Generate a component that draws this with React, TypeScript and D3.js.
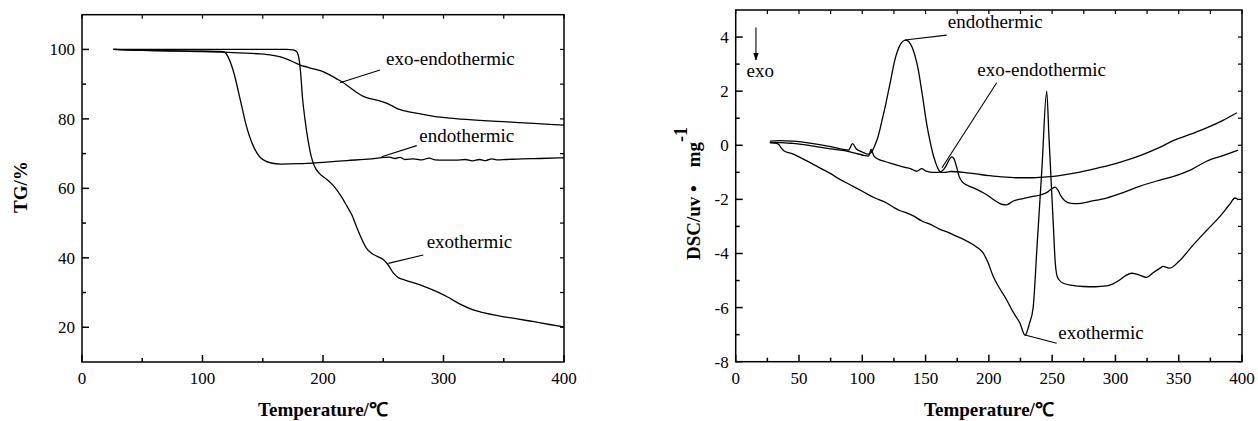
import React from "react";
import * as d3 from "d3";

// ---------------- data ----------------
type P = [number, number];

// TG curves: [temperature °C, mass %]
const tgExothermic: P[] = [
  [26, 100.0], [60, 100.0], [100, 100.0], [140, 100.0], [170, 100.0], [175, 99.9], [178, 99.4], [180, 97.5],
  [181.5, 93], [183, 86], [185, 80], [187.5, 74], [190, 69.5], [193, 66.3], [197, 64.3], [203, 62.6], [208, 61],
  [212, 59.3], [216, 57.2], [220, 54.8], [224, 52.3], [228, 48.8], [232, 45.5], [236, 42.8], [240, 41.4],
  [245, 40.4], [250, 39.5], [254, 38.0], [258, 35.8], [262, 34.4], [268, 33.6], [280, 32.3], [292, 30.6],
  [303, 28.8], [313, 26.8], [323, 25.2], [333, 24.2], [347, 23.2], [360, 22.5], [375, 21.6], [388, 20.8], [400, 20.1],
];
const tgEndothermic: P[] = [
  [26, 100], [50, 99.7], [80, 99.6], [100, 99.5], [115, 99.4], [118, 99.3], [121, 98], [124, 95.5], [127, 92],
  [130, 87.5], [133, 83], [136, 78.5], [139, 75], [142, 72.3], [145, 70.3], [148, 68.9], [152, 67.9], [157, 67.3],
  [165, 67.0], [180, 67.1], [200, 67.5], [220, 68.0], [240, 68.5], [255, 69.0], [260, 68.6], [264, 68.9],
  [268, 68.3], [275, 68.5], [282, 68.2], [288, 68.7], [293, 68.2], [300, 68.1], [310, 68.1], [318, 68.3],
  [324, 67.9], [330, 68.3], [335, 68.0], [340, 68.5], [345, 68.2], [352, 68.3], [365, 68.5], [380, 68.6], [400, 68.8],
];
const tgExoEndothermic: P[] = [
  [26, 100], [50, 99.7], [80, 99.5], [100, 99.4], [117, 99.2], [130, 99.0], [148, 98.7], [158, 98.3], [164, 97.9],
  [170, 97.2], [176, 96.3], [181, 95.5], [187, 94.9], [192, 94.4], [200, 93.6], [206, 92.6], [211, 91.6],
  [216, 90.6], [222, 89.1], [228, 87.6], [234, 86.4], [241, 85.7], [247, 85.2], [252, 84.6], [257, 83.8],
  [262, 82.9], [268, 82.3], [280, 81.5], [292, 80.7], [310, 80.1], [330, 79.6], [350, 79.2], [375, 78.7], [400, 78.2],
];

// DSC curves: [temperature °C, uv/mg]
const dscEndothermic: P[] = [
  [27, 0.15], [35, 0.17], [45, 0.15], [60, 0.07], [75, -0.05], [85, -0.15], [89, -0.18], [92.4, 0.06], [95, -0.12],
  [100, -0.25], [105, -0.33], [108, -0.2], [110, 0.0], [112, 0.25], [114, 0.6], [116, 1.0], [118, 1.4], [120, 1.85],
  [122, 2.3], [124, 2.78], [126, 3.2], [128, 3.5], [130, 3.72], [132, 3.84], [134, 3.89], [136, 3.86], [138, 3.75],
  [140, 3.55], [142, 3.25], [144, 2.85], [146, 2.3], [148, 1.7], [150, 1.05], [152, 0.5], [154, 0.05], [156, -0.35],
  [158, -0.65], [160, -0.88], [162, -1.0], [166, -1.0], [170, -0.97], [180, -1.0], [190, -1.06], [200, -1.12],
  [210, -1.17], [222, -1.2], [235, -1.2], [246, -1.17], [258, -1.1], [272, -0.99], [288, -0.82], [304, -0.62],
  [320, -0.37], [335, -0.08], [346, 0.18], [360, 0.42], [372, 0.64], [385, 0.92], [396, 1.2],
];
const dscExoEndothermic: P[] = [
  [27, 0.1], [35, 0.1], [45, 0.07], [60, -0.02], [75, -0.13], [88, -0.22], [95, -0.3], [100, -0.36], [105, -0.4],
  [107, -0.15], [109, -0.38], [112, -0.5], [118, -0.6], [125, -0.7], [132, -0.8], [138, -0.86], [143, -0.96],
  [147, -0.86], [150, -0.95], [155, -1.0], [160, -1.0], [163, -0.95], [166, -0.78], [168.5, -0.55], [170.6, -0.43],
  [172.5, -0.5], [174.5, -0.8], [176.5, -1.15], [179, -1.35], [183, -1.48], [190, -1.62], [198, -1.82], [205, -2.05],
  [210, -2.18], [214, -2.2], [219, -2.07], [227, -1.97], [235, -1.89], [242, -1.82], [246, -1.74], [250, -1.6],
  [252.3, -1.55], [254.5, -1.65], [257, -1.88], [260, -2.05], [265, -2.15], [270, -2.16], [280, -2.07], [293, -1.95],
  [306, -1.75], [319, -1.52], [332, -1.33], [346, -1.15], [360, -0.9], [372, -0.59], [385, -0.38], [397, -0.18],
];
const dscExothermic: P[] = [
  [27, 0.1], [31, 0.08], [34, 0.03], [36, -0.1], [38, -0.2], [45, -0.32], [55, -0.55], [65, -0.8], [75, -1.05],
  [82, -1.25], [90, -1.45], [100, -1.7], [110, -1.95], [118, -2.1], [125, -2.3], [130, -2.42], [135, -2.5],
  [140, -2.6], [147, -2.8], [155, -2.95], [161, -3.1], [167, -3.2], [172, -3.31], [180, -3.48], [187.7, -3.68],
  [192, -3.82], [195.6, -3.99], [199, -4.3], [203.5, -4.85], [208, -5.25], [214, -5.71], [219, -6.15],
  [224.6, -6.58], [228.6, -7.02], [232, -6.6], [235, -6.0], [238, -3.8], [242, -0.8], [245.7, 2.0], [247.5, 0.3],
  [249.5, -1.6], [251, -3.0], [252.3, -4.23], [254, -4.85], [256, -5.0], [258.8, -5.1], [266, -5.18],
  [274.6, -5.22], [284, -5.23], [293, -5.2], [298, -5.12], [303.6, -4.97], [308, -4.82], [312.8, -4.73],
  [318, -4.78], [324.7, -4.88], [330, -4.7], [335, -4.55], [337.8, -4.48], [341, -4.52], [343, -4.54],
  [350, -4.3], [361.5, -3.68], [372, -3.15], [382.6, -2.63], [390, -2.2], [394.5, -1.95], [397, -2.01],
];

// ticks
const tgXMajor = [0, 100, 200, 300, 400];
const tgXMinor = [50, 150, 250, 350];
const tgYMajor = [20, 40, 60, 80, 100];
const tgYMinor = [30, 50, 70, 90];
const dscXMajor = [0, 50, 100, 150, 200, 250, 300, 350, 400];
const dscXMinor = [25, 75, 125, 175, 225, 275, 325, 375];
const dscYMajor = [-8, -6, -4, -2, 0, 2, 4];
const dscYMinor = [-7, -5, -3, -1, 1, 3];

// ---------------- drawing ----------------
const serif: React.CSSProperties = { fontFamily: '"Liberation Serif", serif' };

type Lin = d3.ScaleLinear<number, number>;

function Frame(props: {
  x: Lin; y: Lin; xMajor: number[]; xMinor: number[]; yMajor: number[]; yMinor: number[];
}) {
  const { x, y, xMajor, xMinor, yMajor, yMinor } = props;
  const [x0, x1] = x.range();
  const [y0, y1] = y.range(); // y0 bottom, y1 top
  const major = 7, minor = 4, mirror = 4;
  const sw = 1.5;
  return (
    <g>
      <rect x={x0} y={y1} width={x1 - x0} height={y0 - y1} fill="none" stroke="#000" strokeWidth={sw} />
      {xMajor.map((v) => (
        <g key={"xM" + v}>
          <line x1={x(v)} x2={x(v)} y1={y0} y2={y0 - major} stroke="#000" strokeWidth={sw} />
          <line x1={x(v)} x2={x(v)} y1={y1} y2={y1 + mirror} stroke="#000" strokeWidth={1.2} />
          <text x={x(v)} y={y0 + 22} fontSize={17} textAnchor="middle" style={serif} fill="#000">
            {String(v)}
          </text>
        </g>
      ))}
      {xMinor.map((v) => (
        <g key={"xm" + v}>
          <line x1={x(v)} x2={x(v)} y1={y0} y2={y0 - minor} stroke="#000" strokeWidth={sw} />
          <line x1={x(v)} x2={x(v)} y1={y1} y2={y1 + mirror} stroke="#000" strokeWidth={1.2} />
        </g>
      ))}
      {yMajor.map((v) => (
        <g key={"yM" + v}>
          <line x1={x0} x2={x0 + major} y1={y(v)} y2={y(v)} stroke="#000" strokeWidth={sw} />
          <line x1={x1} x2={x1 - mirror} y1={y(v)} y2={y(v)} stroke="#000" strokeWidth={1.2} />
          <text x={x0 - 7} y={y(v) + 6} fontSize={17} textAnchor="end" style={serif} fill="#000">
            {String(v)}
          </text>
        </g>
      ))}
      {yMinor.map((v) => (
        <g key={"ym" + v}>
          <line x1={x0} x2={x0 + minor} y1={y(v)} y2={y(v)} stroke="#000" strokeWidth={sw} />
          <line x1={x1} x2={x1 - mirror} y1={y(v)} y2={y(v)} stroke="#000" strokeWidth={1.2} />
        </g>
      ))}
    </g>
  );
}

function Curve({ data, x, y }: { data: P[]; x: Lin; y: Lin }) {
  const gen = d3
    .line<P>()
    .x((d) => x(d[0]))
    .y((d) => y(d[1]))
    .curve(d3.curveMonotoneX);
  return <path d={gen(data) || ""} fill="none" stroke="#000" strokeWidth={1.3} strokeLinejoin="round" />;
}

function Leader({ x, y, from, to }: { x: Lin; y: Lin; from: P; to: P }) {
  return <line x1={x(from[0])} y1={y(from[1])} x2={x(to[0])} y2={y(to[1])} stroke="#000" strokeWidth={1.1} />;
}

function Label({ x, y, at, text }: { x: Lin; y: Lin; at: P; text: string }) {
  return (
    <text x={x(at[0])} y={y(at[1])} fontSize={19} style={serif} fill="#000">
      {text}
    </text>
  );
}

export default function App() {
  const xL = d3.scaleLinear().domain([0, 400]).range([82, 564]);
  const yL = d3.scaleLinear().domain([10, 110]).range([362, 14.7]);
  const xR = d3.scaleLinear().domain([0, 400]).range([735.7, 1242]);
  const yR = d3.scaleLinear().domain([-8, 5]).range([361.7, 10]);

  return (
    <svg
      width={1258}
      height={421}
      viewBox="0 0 1258 421"
      style={{ position: "absolute", left: 0, top: 0, background: "#fff" }}
    >
      <rect x={0} y={0} width={1258} height={421} fill="#fff" />

      {/* ---------- TG panel ---------- */}
      <Frame x={xL} y={yL} xMajor={tgXMajor} xMinor={tgXMinor} yMajor={tgYMajor} yMinor={tgYMinor} />
      <Curve data={tgExoEndothermic} x={xL} y={yL} />
      <Curve data={tgEndothermic} x={xL} y={yL} />
      <Curve data={tgExothermic} x={xL} y={yL} />

      <Leader x={xL} y={yL} from={[214.1, 90.4]} to={[247.3, 94.1]} />
      <Label x={xL} y={yL} at={[252.3, 95.5]} text="exo-endothermic" />
      <Leader x={xL} y={yL} from={[248.7, 69.1]} to={[277.8, 72.3]} />
      <Label x={xL} y={yL} at={[279.9, 73.4]} text="endothermic" />
      <Leader x={xL} y={yL} from={[254.2, 38.4]} to={[283.2, 40.8]} />
      <Label x={xL} y={yL} at={[286, 42.8]} text="exothermic" />

      <text transform="translate(26.5,213) rotate(-90)" fontSize={19} fontWeight="bold" style={serif} fill="#000">
        TG/%
      </text>
      <text x={323} y={416} fontSize={19} fontWeight="bold" style={serif} textAnchor="middle" fill="#000">
        Temperature/℃
      </text>

      {/* ---------- DSC panel ---------- */}
      <Frame x={xR} y={yR} xMajor={dscXMajor} xMinor={dscXMinor} yMajor={dscYMajor} yMinor={dscYMinor} />
      <Curve data={dscEndothermic} x={xR} y={yR} />
      <Curve data={dscExoEndothermic} x={xR} y={yR} />
      <Curve data={dscExothermic} x={xR} y={yR} />

      <Leader x={xR} y={yR} from={[133.7, 3.89]} to={[166.7, 4.07]} />
      <Label x={xR} y={yR} at={[167.5, 4.35]} text="endothermic" />
      <Leader x={xR} y={yR} from={[163, -0.83]} to={[206.2, 2.31]} />
      <Label x={xR} y={yR} at={[190.9, 2.56]} text="exo-endothermic" />
      <Leader x={xR} y={yR} from={[228.6, -7.01]} to={[253.6, -7.32]} />
      <Label x={xR} y={yR} at={[254.9, -7.16]} text="exothermic" />

      {/* exo arrow */}
      <defs>
        <marker id="arrowhead" viewBox="0 0 10 10" refX={9} refY={5} markerWidth={7} markerHeight={9} orient="auto">
          <path d="M0,1.5 L10,5 L0,8.5 z" fill="#000" />
        </marker>
      </defs>
      <line
        x1={xR(16)}
        x2={xR(16)}
        y1={yR(4.35)}
        y2={yR(3.15)}
        stroke="#000"
        strokeWidth={1.1}
        markerEnd="url(#arrowhead)"
      />
      <Label x={xR} y={yR} at={[8.5, 2.54]} text="exo" />

      <text transform="translate(700,260) rotate(-90)" fontSize={19} fontWeight="bold" style={serif} fill="#000">
        <tspan>DSC/uv •</tspan>
        <tspan dx={18}>mg</tspan>
        <tspan dy={-13} fontSize={18}>-1</tspan>
      </text>
      <text x={989} y={416} fontSize={19} fontWeight="bold" style={serif} textAnchor="middle" fill="#000">
        Temperature/℃
      </text>
    </svg>
  );
}
